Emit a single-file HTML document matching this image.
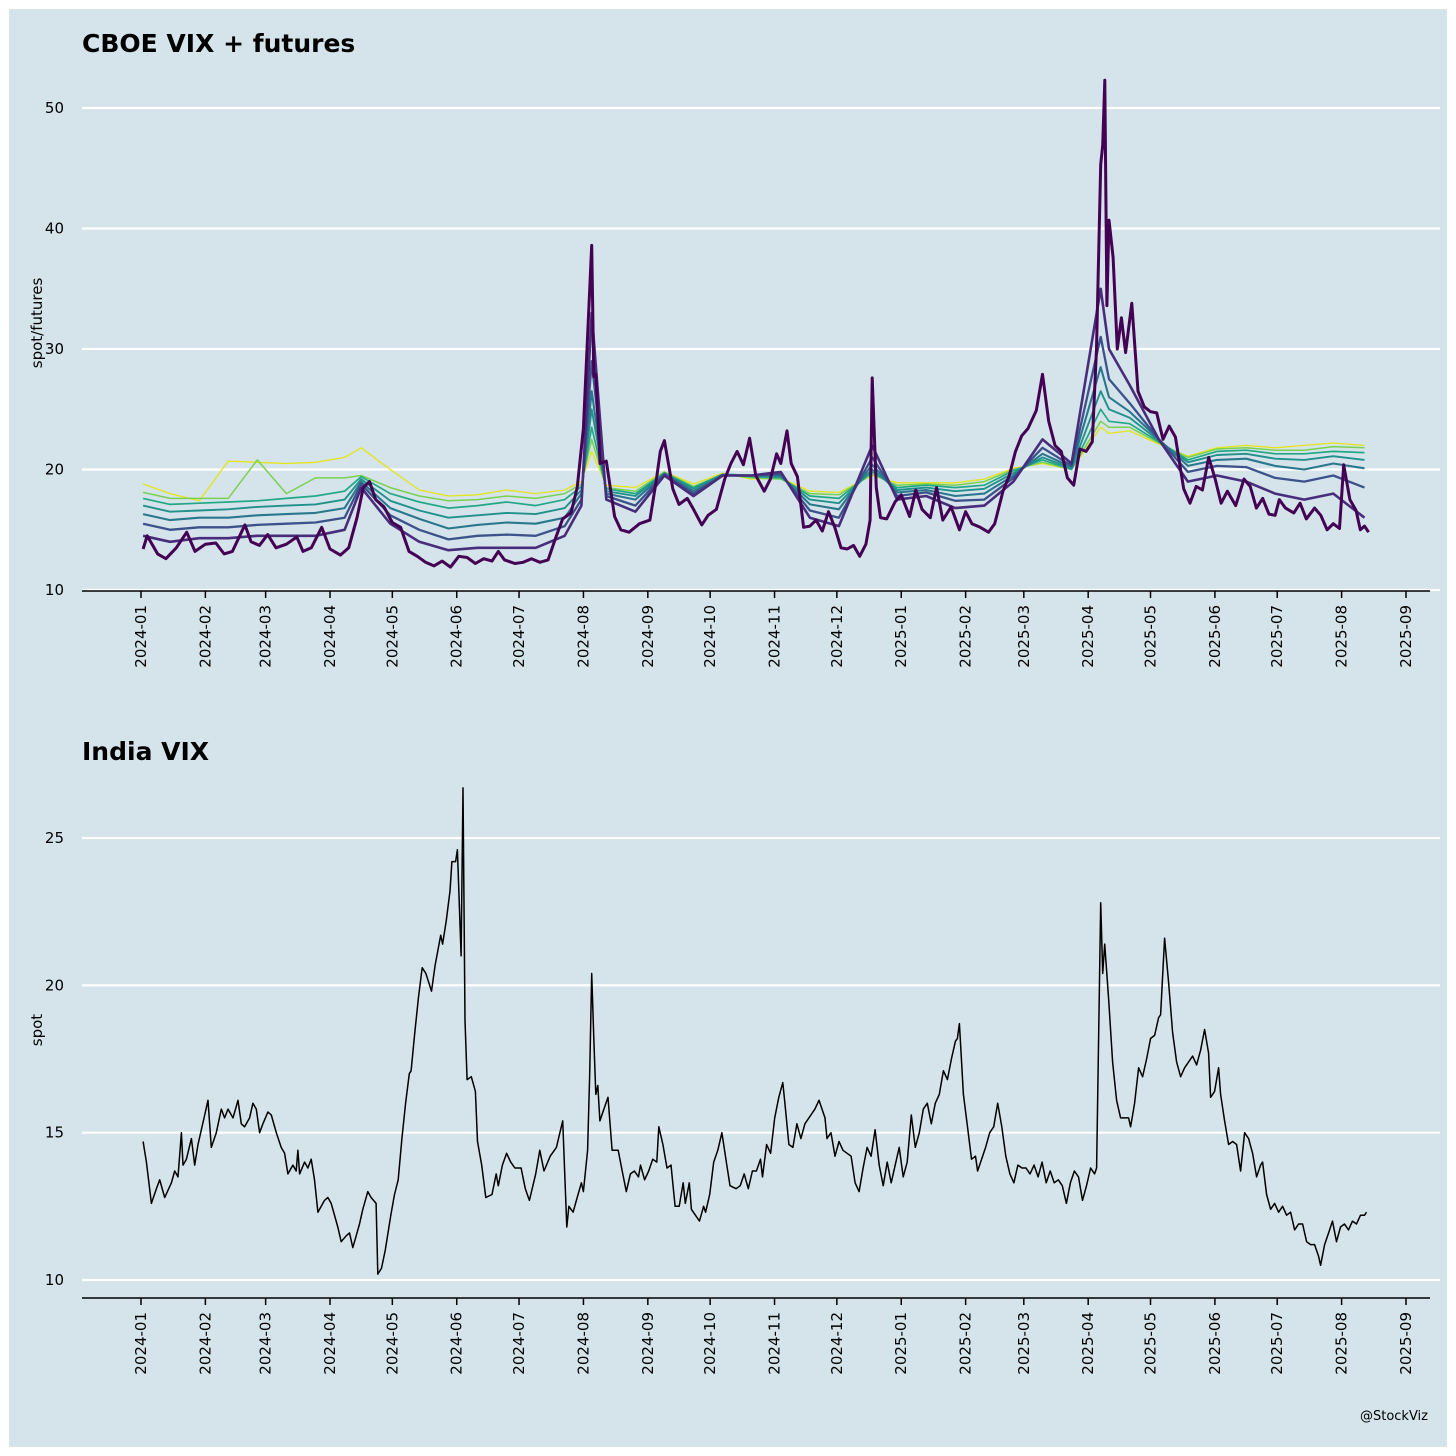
<!DOCTYPE html>
<html><head><meta charset="utf-8">
<style>
html,body{margin:0;padding:0;background:#fff;}
svg{display:block;font-family:"DejaVu Sans","Liberation Sans",sans-serif;}
</style></head>
<body>
<svg id="chart" width="1456" height="1456" viewBox="0 0 1456 1456">
<rect x="0" y="0" width="1456" height="1456" fill="#ffffff"/>
<rect x="9" y="9" width="1438" height="1438" fill="#d5e3ea"/>
<text x="82" y="52" font-size="25" font-weight="bold" fill="#000">CBOE VIX + futures</text>
<text x="82" y="760" font-size="25" font-weight="bold" fill="#000">India VIX</text>
<text transform="translate(42,323) rotate(-90)" text-anchor="middle" font-size="15" fill="#000">spot/futures</text>
<text transform="translate(42,1030) rotate(-90)" text-anchor="middle" font-size="15" fill="#000">spot</text>
<text x="1428" y="1420" text-anchor="end" font-size="13" fill="#000">@StockViz</text>
<g id="topPlot"></g>
<g id="botPlot"></g>
</svg>
<script>
// ---- data ----
const monthTicks = ["2024-01","2024-02","2024-03","2024-04","2024-05","2024-06","2024-07","2024-08","2024-09","2024-10","2024-11","2024-12","2025-01","2025-02","2025-03","2025-04","2025-05","2025-06","2025-07","2025-08","2025-09"];
const topYTicks = [10,20,30,40,50];
const botYTicks = [10,15,20,25];
// CBOE spot VIX: day offsets from 2024-01-01 and values
const spotDays = [1,3,8,12,17,22,26,31,36,40,44,47,50,53,57,61,65,70,75,78,82,87,91,96,100,104,107,110,113,117,121,125,129,133,137,141,145,149,153,157,161,165,169,172,175,180,184,188,192,196,200,203,207,210,213,217,218,219,221,224,228,231,235,240,245,248,250,252,256,259,263,266,270,273,277,281,284,287,290,293,296,300,303,306,308,311,313,316,319,322,325,328,331,334,337,340,343,346,349,351,352,354,356,359,363,366,370,373,376,380,383,386,390,394,397,400,404,408,411,415,418,421,424,427,431,434,437,440,443,446,449,452,455,458,460,462,463,464,465,466,468,470,472,474,477,480,483,486,489,492,495,498,502,505,508,511,514,517,520,523,527,531,534,537,540,543,546,548,551,555,558,561,565,568,571,574,577,579,582,585,587,589,591];
const spotVals = [13.4,14.5,13,12.6,13.5,14.8,13.2,13.8,13.9,13,13.2,14.3,15.4,14,13.7,14.6,13.5,13.8,14.4,13.2,13.5,15.2,13.4,12.9,13.5,16,18.5,19,17.5,16.9,15.6,15.2,13.2,12.8,12.3,12,12.4,11.9,12.8,12.7,12.2,12.6,12.4,13.2,12.5,12.2,12.3,12.6,12.3,12.5,14.5,15.9,16.4,18.5,23.4,38.6,27.7,27.9,20.5,20.7,16.1,15,14.8,15.5,15.8,19,21.5,22.4,18.4,17.1,17.6,16.7,15.4,16.2,16.7,19.2,20.5,21.5,20.4,22.6,19.5,18.2,19.2,21.3,20.5,23.2,20.5,19.4,15.2,15.3,15.8,14.9,16.5,15.2,13.5,13.4,13.7,12.8,13.8,15.8,27.6,18.5,16,15.9,17.3,17.9,16.1,18.3,16.7,16,18.5,15.8,16.9,15,16.5,15.5,15.2,14.8,15.5,18.2,19.5,21.5,22.8,23.4,24.9,27.9,24,22,21.5,19.3,18.7,21.7,21.5,22.3,30,45.3,46.9,52.3,33.6,40.7,37.6,30,32.6,29.7,33.8,26.5,25.2,24.8,24.7,22.5,23.6,22.7,18.4,17.2,18.6,18.3,21,19.3,17.2,18.2,17,19.2,18.6,16.8,17.6,16.3,16.2,17.5,16.8,16.4,17.2,15.9,16.8,16.2,15,15.5,15.1,20.4,17.5,16.6,15,15.3,14.8];
// futures (F1 front .. F7 back)
const futDays = [1,14,28,42,56,70,84,98,106,120,134,148,162,176,190,204,212,217,224,238,252,266,280,294,308,322,336,352,364,378,392,406,420,434,448,462,466,476,490,504,518,532,546,560,574,589];
const fut1 = [14.5,14,14.3,14.3,14.5,14.5,14.5,15,18.5,15.5,14,13.3,13.5,13.5,13.5,14.5,17,33,17.5,16.5,19.5,17.8,19.5,19.5,19.8,16,15.3,22,17.5,17.8,16.8,17,19,22.5,20.5,35,30,27,22.5,19,19.5,19,18,17.5,18,16];
const fut2 = [15.5,15,15.2,15.2,15.4,15.5,15.6,16,18.8,16.2,15,14.2,14.5,14.6,14.5,15.3,17.5,29,17.8,17,19.6,18,19.5,19.5,19.6,16.6,16,21,17.8,18.1,17.4,17.5,19.3,21.8,20.3,31,27.5,25.5,22.5,19.8,20.3,20.2,19.3,19,19.5,18.5];
const fut3 = [16.3,15.8,16,16,16.2,16.3,16.4,16.8,19,16.8,15.9,15.1,15.4,15.6,15.5,16,18,26.5,18,17.5,19.6,18.2,19.5,19.5,19.5,17.1,16.7,20.4,18.1,18.3,17.8,18,19.5,21.3,20.2,28.5,26,24.8,22.5,20.3,20.8,20.9,20.3,20,20.5,20.1];
const fut4 = [17,16.5,16.6,16.7,16.9,17,17.1,17.5,19.2,17.4,16.6,16,16.2,16.4,16.3,16.8,18.3,25,18.2,17.8,19.7,18.4,19.6,19.5,19.4,17.5,17.2,20,18.3,18.5,18.2,18.4,19.7,21,20.1,26.5,25,24.3,22.4,20.6,21.2,21.3,20.9,20.8,21.1,20.8];
const fut5 = [17.6,17.1,17.2,17.3,17.4,17.6,17.8,18.2,19.4,18,17.3,16.8,17,17.3,17,17.5,18.6,23.5,18.4,18,19.7,18.5,19.6,19.4,19.3,17.8,17.6,19.8,18.5,18.7,18.5,18.7,19.9,20.8,20,25,24,23.8,22.3,20.8,21.5,21.6,21.3,21.3,21.5,21.4];
const fut6 = [18.1,17.6,17.6,17.6,20.8,18,19.3,19.3,19.5,18.5,17.8,17.4,17.5,17.8,17.6,18,18.8,22.5,18.5,18.2,19.8,18.6,19.6,19.3,19.2,18,17.9,19.6,18.7,18.8,18.7,19,20,20.6,20,24,23.5,23.5,22.2,21,21.7,21.8,21.6,21.6,21.9,21.8];
const fut7 = [18.8,18,17.4,20.7,20.6,20.5,20.6,21,21.8,20,18.3,17.8,17.9,18.3,18,18.3,19,21.5,18.7,18.5,19.8,18.8,19.7,19.2,19.3,18.2,18.1,19.5,18.9,18.9,18.9,19.2,20.1,20.5,20,23.5,23,23.2,22.1,21.1,21.8,22,21.8,22,22.2,22];
// India VIX (raw day estimates, remapped by calibration anchors below)
const indiaRawDays = [1,3,6,9,11,14,18,20,22,24,25,27,30,32,34,38,40,42,45,48,50,52,55,58,60,62,65,67,69,71,73,76,78,81,84,86,88,91,93,94,95,98,100,102,104,106,110,112,114,116,118,120,123,125,127,129,131,133,136,138,141,142,144,146,149,151,153,155,157,159,160,162,164,166,168,171,173,176,177,179,181,182,184,185,187,188,189,190,192,194,195,197,199,202,204,205,207,209,211,213,216,218,220,223,225,227,230,233,236,238,239,241,243,245,246,248,249,250,251,252,253,254,256,258,260,263,265,267,269,271,273,274,276,278,280,282,283,285,287,289,291,293,295,296,298,299,301,303,305,306,308,310,312,314,316,318,321,323,325,327,329,331,333,334,336,338,340,342,344,345,347,349,351,353,355,358,360,362,365,366,368,370,372,374,376,378,380,382,384,386,388,390,392,394,396,398,400,402,404,406,408,410,412,414,416,418,420,422,424,426,428,430,431,432,434,436,438,440,441,443,445,447,449,451,453,455,457,459,461,463,465,467,469,471,473,475,477,479,481,483,485,487,489,491,493,495,497,499,500,502,503,504,506,508,510,512,514,516,517,519,521,523,525,527,529,531,532,534,536,538,540,542,544,546,548,550,552,554,556,557,559,561,562,564,566,568,570,572,574,576,578,580,582,583,585,587,589,591,593,595,597,599,601,603,605,607,609,611,612,614,616,618,620,622,624,626,628,630,632,634,635];
const indiaVals = [14.7,14,12.6,13.1,13.4,12.8,13.3,13.7,13.5,15,13.9,14.1,14.8,13.9,14.6,15.6,16.1,14.5,15,15.8,15.5,15.8,15.5,16.1,15.3,15.2,15.5,16,15.8,15,15.3,15.7,15.6,15,14.5,14.3,13.6,13.9,13.7,14.4,13.6,14,13.8,14.1,13.4,12.3,12.7,12.8,12.6,12.2,11.8,11.3,11.5,11.6,11.1,11.5,11.9,12.4,13,12.8,12.6,10.2,10.4,11,12.2,12.9,13.4,14.8,16,17,17.1,18.4,19.6,20.6,20.4,19.8,20.7,21.7,21.4,22.2,23.2,24.2,24.2,24.6,21,26.7,18.8,16.8,16.9,16.4,14.7,13.9,12.8,12.9,13.6,13.2,13.9,14.3,14,13.8,13.8,13.1,12.7,13.6,14.4,13.7,14.2,14.5,15.4,11.8,12.5,12.3,12.8,13.3,13,14.4,17,20.4,18.2,16.3,16.6,15.4,15.8,16.2,14.4,14.4,13.7,13,13.6,13.7,13.5,13.9,13.4,13.7,14.1,14,15.2,14.6,13.8,13.9,12.5,12.5,13.3,12.6,13.3,12.4,12.2,12,12.5,12.3,12.9,14,14.4,15,14.1,13.2,13.1,13.2,13.6,13.1,13.7,13.7,14.1,13.5,14.6,14.3,15.5,16.2,16.7,16,14.6,14.5,15.3,14.8,15.3,15.6,15.8,16.1,15.5,14.8,15,14.2,14.7,14.4,14.3,14.2,13.3,13,13.8,14.5,14.2,15.1,13.9,13.2,14,13.3,13.9,14.5,13.5,14,15.6,14.5,15,15.8,16,15.3,16,16.3,17.1,16.8,17.5,18.1,18.2,18.7,16.3,15.2,14.1,14.2,13.7,14.1,14.5,15,15.2,16,15.2,14.2,13.6,13.3,13.9,13.8,13.8,13.6,13.9,13.5,14,13.3,13.7,13.3,13.4,13.2,12.6,13.3,13.7,13.5,12.7,13.2,13.8,13.6,13.8,22.8,20.4,21.4,19.5,17.4,16.1,15.5,15.5,15.5,15.2,16,17.2,16.9,17.5,18.2,18.3,18.9,19,21.6,20.1,18.4,17.4,16.9,17.2,17.4,17.6,17.3,17.8,18.5,17.7,16.2,16.4,17.2,16.3,15.4,14.6,14.7,14.6,13.7,15,14.8,14.3,13.5,13.9,14,12.9,12.4,12.6,12.3,12.5,12.2,12.3,11.7,11.9,11.9,11.3,11.2,11.2,10.8,10.5,11.2,11.6,12,11.3,11.8,11.9,11.7,12,11.9,12.2,12.2,12.3];
const calibRaw = [1,142,188,250,344,432,502,635];
const calibDay = [1,114,155,217,309,394,462,590];

(function(){
const X0 = 141, X1 = 1406, SPAN = 609;
function xScale(day){ return X0 + day*(X1-X0)/SPAN; }
function topY(v){ return 590 - (v-10)*(590-108)/40; }
function botY(v){ return 1280 - (v-10)*(1280-838)/15; }
function monthDay(s){ const p=s.split('-').map(Number); return (Date.UTC(p[0],p[1]-1,1)-Date.UTC(2024,0,1))/86400000; }
function calib(r){
  for(let i=0;i<calibRaw.length-1;i++){
    if(r<=calibRaw[i+1]){ const t=(r-calibRaw[i])/(calibRaw[i+1]-calibRaw[i]); return calibDay[i]+t*(calibDay[i+1]-calibDay[i]); }
  }
  return calibDay[calibDay.length-1];
}
const NS='http://www.w3.org/2000/svg';
function mk(tag, attrs, parent){ const e=document.createElementNS(NS,tag); for(const k in attrs) e.setAttribute(k,attrs[k]); parent.appendChild(e); return e; }

function drawAxes(g, yTicks, yFn, axisY, prefix){
  yTicks.forEach(function(v){
    const y=yFn(v);
    const l=mk('line',{x1:82,x2:1440,y1:y,y2:y,stroke:'#ffffff','stroke-width':2.2},g);
    
    
    const t=mk('text',{x:64,y:y+5,'text-anchor':'end','font-size':15,fill:'#000'},g);
    t.textContent=v;
    
    
  });
  const ax=mk('line',{x1:82,x2:1430,y1:axisY,y2:axisY,stroke:'#000','stroke-width':1.5},g);
  
  
  monthTicks.forEach(function(m){
    const x=xScale(monthDay(m));
    const tk=mk('line',{x1:x,x2:x,y1:axisY,y2:axisY+7,stroke:'#000','stroke-width':1.5},g);
    
    
    const t=mk('text',{transform:'translate('+(x+5)+','+(axisY+14)+') rotate(-90)','text-anchor':'end','font-size':15,fill:'#000'},g);
    t.textContent=m;
    
    
  });
}
function drawLine(g, days, vals, yFn, color, w, name){
  const n=Math.min(days.length, vals.length);
  let d='';
  for(let i=0;i<n;i++){ d+=(i?'L':'M')+xScale(days[i]).toFixed(1)+','+yFn(vals[i]).toFixed(1); }
  const p=mk('path',{d:d,fill:'none',stroke:color,'stroke-width':w,'stroke-linejoin':'round'},g);
  
  
}
const gTop=document.getElementById('topPlot'), gBot=document.getElementById('botPlot');
drawAxes(gTop, topYTicks, topY, 591, 'cboe');
drawAxes(gBot, botYTicks, botY, 1298, 'india');
const futs=[fut7,fut6,fut5,fut4,fut3,fut2,fut1];
const futColors=['#e5e419','#7ad151','#22a884','#21918c','#2a788e','#3b528b','#472d7b'];
const futW=[1.3,1.5,1.7,1.9,2.1,2.3,2.6];
futs.forEach(function(f,i){ drawLine(gTop, futDays, f, topY, futColors[i], futW[i], 'future-line-'+(7-i)); });
drawLine(gTop, spotDays, spotVals, topY, '#440154', 3, 'cboe-spot-line');
drawLine(gBot, indiaRawDays.map(calib), indiaVals, botY, '#000000', 1.5, 'india-vix-line');
})();
</script>
</body></html>
